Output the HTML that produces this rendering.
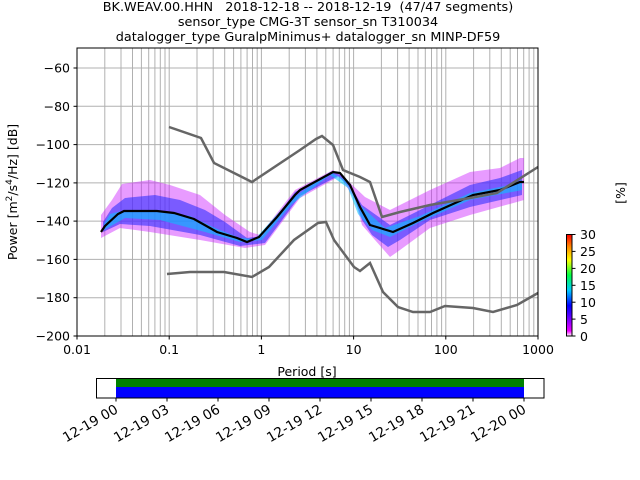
<!DOCTYPE html>
<html><head><meta charset="utf-8"><style>
html,body{margin:0;padding:0;background:#fff}
svg{display:block;font-family:"DejaVu Sans","Liberation Sans",sans-serif}
</style></head><body>
<svg width="640" height="480" viewBox="0 0 640 480" xmlns="http://www.w3.org/2000/svg">
<defs>
<g id="dec" stroke="#b0b0b0" stroke-width="1">
<line x1="0" y1="48" x2="0" y2="336"/>
<line x1="27.8" y1="48" x2="27.8" y2="336"/>
<line x1="44" y1="48" x2="44" y2="336"/>
<line x1="55.5" y1="48" x2="55.5" y2="336"/>
<line x1="64.4" y1="48" x2="64.4" y2="336"/>
<line x1="71.7" y1="48" x2="71.7" y2="336"/>
<line x1="77.9" y1="48" x2="77.9" y2="336"/>
<line x1="83.3" y1="48" x2="83.3" y2="336"/>
<line x1="88" y1="48" x2="88" y2="336"/>
</g>
<linearGradient id="cb" x1="0" y1="1" x2="0" y2="0">
<stop offset="0" stop-color="#ffffff"/>
<stop offset="0.05" stop-color="#ee00ff"/>
<stop offset="0.2" stop-color="#5500ff"/>
<stop offset="0.3" stop-color="#0000ff"/>
<stop offset="0.45" stop-color="#00ccff"/>
<stop offset="0.6" stop-color="#00ff44"/>
<stop offset="0.75" stop-color="#ffff00"/>
<stop offset="0.88" stop-color="#ff8800"/>
<stop offset="1" stop-color="#ff0000"/>
</linearGradient>
</defs>
<text x="308" y="11" font-size="12.8" text-anchor="middle">BK.WEAV.00.HHN&#160;&#160;&#160;2018-12-18 -- 2018-12-19&#160;&#160;(47/47 segments)</text>
<text x="308" y="26" font-size="12.8" text-anchor="middle">sensor_type CMG-3T sensor_sn T310034</text>
<text x="308" y="41" font-size="12.8" text-anchor="middle">datalogger_type GuralpMinimus+ datalogger_sn MINP-DF59</text>

<use href="#dec" x="77"/><use href="#dec" x="169.2"/><use href="#dec" x="261.4"/><use href="#dec" x="353.6"/><use href="#dec" x="445.8"/>
<g stroke="#b0b0b0" stroke-width="1">
<line x1="77" y1="68" x2="538" y2="68"/><line x1="77" y1="106.3" x2="538" y2="106.3"/>
<line x1="77" y1="144.6" x2="538" y2="144.6"/><line x1="77" y1="182.9" x2="538" y2="182.9"/>
<line x1="77" y1="221.1" x2="538" y2="221.1"/><line x1="77" y1="259.4" x2="538" y2="259.4"/>
<line x1="77" y1="297.7" x2="538" y2="297.7"/>
</g>

<!-- PPSD band -->
<polygon fill="#cc22ff" opacity="0.45" points="101,215 112,200 122,184 150,180 170,185 200,195 225,215 250,232 260,235 295,190 333,170 345,178 365,197 390,210 430,190 470,172 500,168 520,158 524,158 524,200 470,215 430,228 400,250 390,257 375,240 362,225 355,200 340,176 300,198 265,245 245,248 200,240 150,232 120,228 101,238"/>
<polygon fill="#3030ff" opacity="0.6" points="103,222 112,208 125,198 155,195 180,200 205,210 225,222 247,238 262,236 295,192 333,171 345,178 362,205 390,225 430,205 470,185 500,178 522,170 522,195 470,207 430,220 400,240 388,247 372,235 362,220 352,190 338,176 300,196 265,243 240,246 200,235 150,226 120,224 103,232"/>
<polygon fill="#00c8ff" opacity="0.55" points="104,224 110,214 125,210 160,211 190,216 215,228 240,238 255,239 290,200 330,172 345,180 360,205 385,228 420,216 470,193 505,186 522,180 522,190 470,200 420,222 390,237 372,230 358,214 348,188 330,175 292,204 262,240 240,242 205,232 160,220 125,218 104,230"/>

<!-- mean line -->
<polyline fill="none" stroke="#000" stroke-width="2.2" points="101,232 105,226 118,214 124,211 157,211 174,213 194,219 217,232 237,238 247,242 259,237 277,217 295,195 300,190 333,172 340,173 350,185 360,207 370,225 393,232 413,223 433,213 473,195 500,190 520,182 524,182"/>

<!-- noise models -->
<polyline fill="none" stroke="#666" stroke-width="2.5" points="169,127 201,138 214,163 252,182 300,150 316,139 322,136 333,145 343,170 360,177 370,182 382,217 400,212 430,205 470,198 497,193 538,167"/>
<polyline fill="none" stroke="#666" stroke-width="2.5" points="167,274 190,272 224,272 252,277 269,267 294,240 318,223 326,222 334,240 354,267 360,271 370,263 383,292 398,307 413,312 430,312 445,306 473,308 493,312 517,305 538,293"/>

<!-- axes frame -->
<rect x="77" y="48" width="461" height="288" fill="none" stroke="#000" stroke-width="1"/>
<g stroke="#000" stroke-width="1">
<line x1="73.5" y1="68" x2="77" y2="68"/><line x1="73.5" y1="106.3" x2="77" y2="106.3"/>
<line x1="73.5" y1="144.6" x2="77" y2="144.6"/><line x1="73.5" y1="182.9" x2="77" y2="182.9"/>
<line x1="73.5" y1="221.1" x2="77" y2="221.1"/><line x1="73.5" y1="259.4" x2="77" y2="259.4"/>
<line x1="73.5" y1="297.7" x2="77" y2="297.7"/><line x1="73.5" y1="336" x2="77" y2="336"/>
<line x1="77" y1="336" x2="77" y2="339.5"/><line x1="169.2" y1="336" x2="169.2" y2="339.5"/>
<line x1="261.4" y1="336" x2="261.4" y2="339.5"/><line x1="353.6" y1="336" x2="353.6" y2="339.5"/>
<line x1="445.8" y1="336" x2="445.8" y2="339.5"/><line x1="538" y1="336" x2="538" y2="339.5"/>
</g>
<g font-size="12.5" text-anchor="end">
<text x="70" y="72.5">−60</text><text x="70" y="110.8">−80</text><text x="70" y="149">−100</text>
<text x="70" y="187.3">−120</text><text x="70" y="225.6">−140</text><text x="70" y="263.9">−160</text>
<text x="70" y="302.2">−180</text><text x="70" y="340.5">−200</text>
</g>
<g font-size="12.5" text-anchor="middle">
<text x="77" y="354">0.01</text><text x="169.2" y="354">0.1</text><text x="261.4" y="354">1</text>
<text x="353.6" y="354">10</text><text x="445.8" y="354">100</text><text x="538" y="354">1000</text>
<text x="307" y="376">Period [s]</text>
</g>
<text transform="translate(17,192) rotate(-90)" font-size="12.5" text-anchor="middle">Power [m<tspan font-size="9" dy="-5">2</tspan><tspan dy="5">/s</tspan><tspan font-size="9" dy="-5">4</tspan><tspan dy="5">/Hz] [dB]</tspan></text>

<!-- colorbar -->
<rect x="566.5" y="234.5" width="5.5" height="101.5" fill="url(#cb)" stroke="#000" stroke-width="1"/>
<g stroke="#000"><line x1="572" y1="234.5" x2="575.5" y2="234.5"/><line x1="572" y1="251.4" x2="575.5" y2="251.4"/><line x1="572" y1="268.4" x2="575.5" y2="268.4"/><line x1="572" y1="285.3" x2="575.5" y2="285.3"/><line x1="572" y1="302.2" x2="575.5" y2="302.2"/><line x1="572" y1="319.1" x2="575.5" y2="319.1"/><line x1="572" y1="336" x2="575.5" y2="336"/></g>
<g font-size="12.5"><text x="580" y="239">30</text><text x="580" y="256">25</text><text x="580" y="273">20</text><text x="580" y="290">15</text><text x="580" y="307">10</text><text x="580" y="324">5</text><text x="580" y="341">0</text></g>
<text transform="translate(625,193) rotate(-90)" font-size="12.5" text-anchor="middle">[%]</text>

<!-- timeline -->
<rect x="116" y="379" width="408" height="8" fill="#008000"/>
<rect x="116" y="387" width="408" height="11" fill="#0000ff"/>
<rect x="96.5" y="378.5" width="447.5" height="19.5" fill="none" stroke="#000" stroke-width="1"/>
<g stroke="#000"><line x1="116" y1="398" x2="116" y2="401.5"/><line x1="167" y1="398" x2="167" y2="401.5"/><line x1="218" y1="398" x2="218" y2="401.5"/><line x1="269" y1="398" x2="269" y2="401.5"/><line x1="320" y1="398" x2="320" y2="401.5"/><line x1="371" y1="398" x2="371" y2="401.5"/><line x1="422" y1="398" x2="422" y2="401.5"/><line x1="473" y1="398" x2="473" y2="401.5"/><line x1="524" y1="398" x2="524" y2="401.5"/></g>
<g font-size="13.6" text-anchor="end">
<text transform="translate(119,412) rotate(-30)">12-19 00</text>
<text transform="translate(170,412) rotate(-30)">12-19 03</text>
<text transform="translate(221,412) rotate(-30)">12-19 06</text>
<text transform="translate(272,412) rotate(-30)">12-19 09</text>
<text transform="translate(323,412) rotate(-30)">12-19 12</text>
<text transform="translate(374,412) rotate(-30)">12-19 15</text>
<text transform="translate(425,412) rotate(-30)">12-19 18</text>
<text transform="translate(476,412) rotate(-30)">12-19 21</text>
<text transform="translate(527,412) rotate(-30)">12-20 00</text>
</g>
</svg>
</body></html>
